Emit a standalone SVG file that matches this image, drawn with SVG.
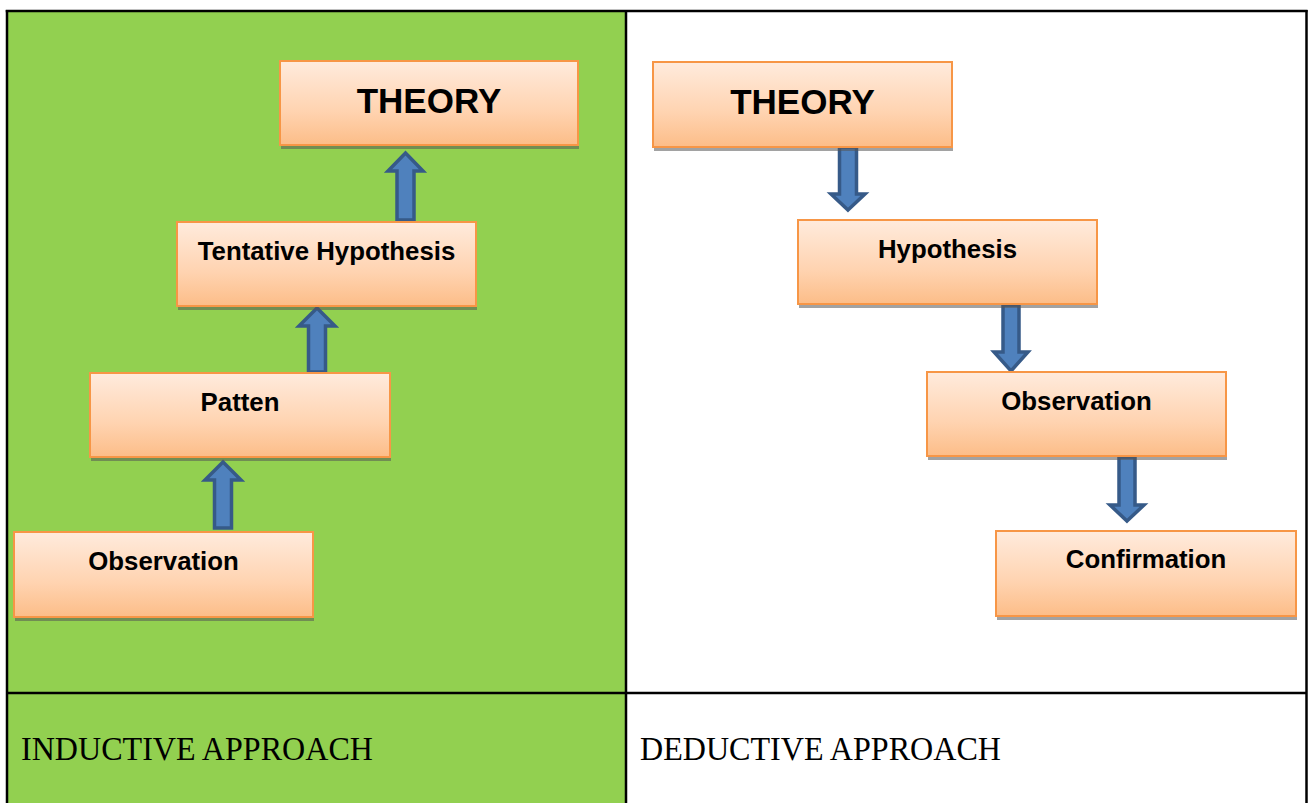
<svg xmlns="http://www.w3.org/2000/svg" width="1311" height="803" viewBox="0 0 1311 803">
  <style>
    .box { fill: url(#boxGrad); stroke: #F79646; stroke-width: 2; }
    .shadow { fill: #555555; opacity: 0.55; }
    .lbl { font-family: "Liberation Sans", Arial, sans-serif; font-weight: bold; font-size: 25.8px; fill: #000; text-anchor: middle; }
    .big { font-size: 35px; }
    .cap { font-family: "Liberation Serif", "Times New Roman", serif; font-size: 33px; fill: #000; }
    .arrow { fill: #4F81BD; stroke: #365A88; stroke-width: 3.5; stroke-linejoin: miter; }
    .grid { stroke: #000; stroke-width: 2.5; fill: none; }
  </style>
  <defs>
    <linearGradient id="boxGrad" x1="0" y1="0" x2="0" y2="1">
      <stop offset="0" stop-color="#FFEBDD"/>
      <stop offset="0.6" stop-color="#FFD3B0"/>
      <stop offset="1" stop-color="#FCBD88"/>
    </linearGradient>
  </defs>

  <rect x="0" y="0" width="1311" height="803" fill="#FFFFFF"/>
  <rect x="7" y="11" width="619" height="792" fill="#92D050"/>

  <g id="table-lines">
    <line class="grid" x1="5.75" y1="11" x2="1307.5" y2="11"/>
    <line class="grid" x1="7" y1="10" x2="7" y2="803"/>
    <line class="grid" x1="626" y1="10" x2="626" y2="803"/>
    <line class="grid" x1="1306.5" y1="10" x2="1306.5" y2="803"/>
    <line class="grid" x1="7" y1="693" x2="1307" y2="693"/>
  </g>

  <g id="connectors">
    <path class="arrow" d="M405.5,153 L423,171 L414,171 L414,220 L397,220 L397,171 L388,171 Z"/>
    <path class="arrow" d="M317,308 L335,326 L325.5,326 L325.5,372 L308.5,372 L308.5,326 L299,326 Z"/>
    <path class="arrow" d="M223,462 L241,480 L231.5,480 L231.5,528 L214.5,528 L214.5,480 L205,480 Z"/>
    <path class="arrow" d="M848,210 L865,194 L856.5,194 L856.5,147 L839.5,147 L839.5,194 L831,194 Z"/>
    <path class="arrow" d="M1011,371 L1028,352 L1019,352 L1019,305 L1003,305 L1003,352 L994,352 Z"/>
    <path class="arrow" d="M1127,521 L1144,505 L1135,505 L1135,457 L1119,457 L1119,505 L1110,505 Z"/>
  </g>

  <g id="ind-theory">
    <rect class="shadow" x="281" y="146" width="298" height="3"/>
    <rect class="box" x="280" y="61" width="298" height="84"/>
    <text class="lbl big" x="429" y="113">THEORY</text>
  </g>
  <g id="ind-tentative">
    <rect class="shadow" x="178" y="307" width="299" height="3"/>
    <rect class="box" x="177" y="222" width="299" height="84"/>
    <text class="lbl" x="326.5" y="260">Tentative Hypothesis</text>
  </g>
  <g id="ind-patten">
    <rect class="shadow" x="91" y="458" width="300" height="3"/>
    <rect class="box" x="90" y="373" width="300" height="84"/>
    <text class="lbl" x="240" y="411">Patten</text>
  </g>
  <g id="ind-observation">
    <rect class="shadow" x="15" y="618" width="299" height="3"/>
    <rect class="box" x="14" y="532" width="299" height="85"/>
    <text class="lbl" x="163.5" y="570">Observation</text>
  </g>

  <g id="ded-theory">
    <rect class="shadow" x="654" y="148" width="299" height="3"/>
    <rect class="box" x="653" y="62" width="299" height="85"/>
    <text class="lbl big" x="802.5" y="114">THEORY</text>
  </g>
  <g id="ded-hypothesis">
    <rect class="shadow" x="799" y="305" width="299" height="3"/>
    <rect class="box" x="798" y="220" width="299" height="84"/>
    <text class="lbl" x="947.5" y="258">Hypothesis</text>
  </g>
  <g id="ded-observation">
    <rect class="shadow" x="928" y="457" width="299" height="3"/>
    <rect class="box" x="927" y="372" width="299" height="84"/>
    <text class="lbl" x="1076.5" y="410">Observation</text>
  </g>
  <g id="ded-confirmation">
    <rect class="shadow" x="997" y="617" width="300" height="3"/>
    <rect class="box" x="996" y="531" width="300" height="85"/>
    <text class="lbl" x="1146" y="568">Confirmation</text>
  </g>

  <g id="captions">
    <text class="cap" x="21" y="760" textLength="352" lengthAdjust="spacingAndGlyphs">INDUCTIVE APPROACH</text>
    <text class="cap" x="640" y="760" textLength="361" lengthAdjust="spacingAndGlyphs">DEDUCTIVE APPROACH</text>
  </g>
</svg>
